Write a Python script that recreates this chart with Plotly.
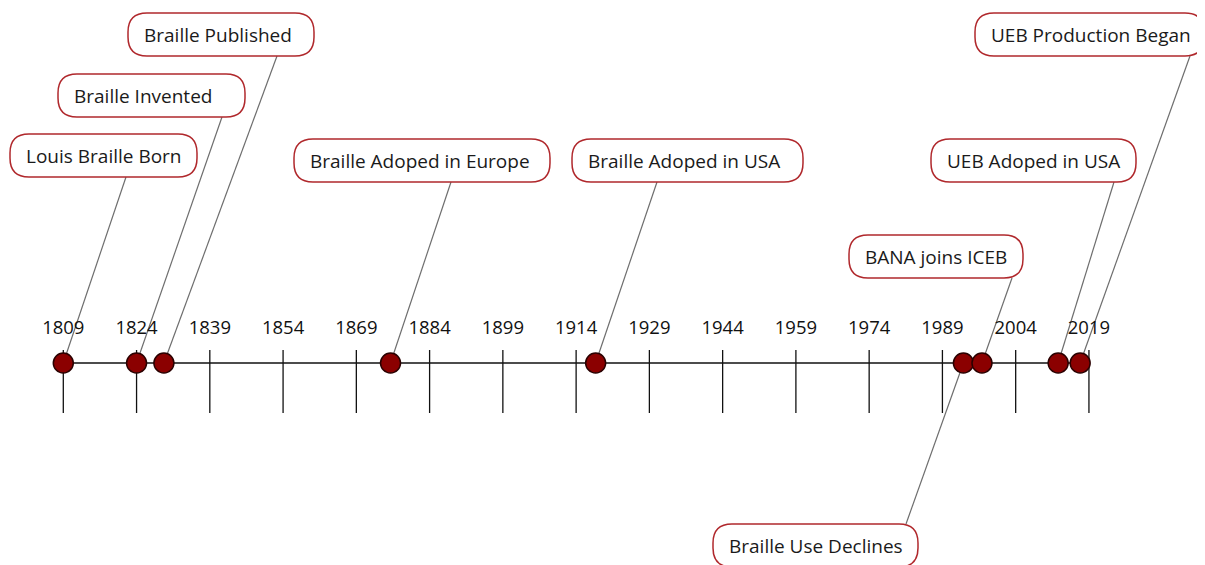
import plotly.graph_objects as go

# ---- data ----
event_labels = [
    "Louis Braille Born", "Braille Invented", "Braille Published",
    "Braille Adoped in Europe", "Braille Adoped in USA", "Braille Use Declines",
    "BANA joins ICEB", "UEB Adoped in USA", "UEB Production Began",
]
event_years = [1809, 1824, 1829.6, 1876, 1918, 1993.3, 1997.1, 2012.7, 2017.2]
tick_years = [1809, 1824, 1839, 1854, 1869, 1884, 1899, 1914, 1929, 1944, 1959, 1974, 1989, 2004, 2019]
tick_labels = [str(t) for t in tick_years]

# ---- layout (page pixels) ----
W, H = 1205, 565
OFF = 8                            # page body margin
X0, PPY = 1796.04, 4.884           # year at page x=0 and pixels per year
AXIS_Y = 363
# label boxes: left, right, top, connector start x (page pixels)
box_left = [10, 58, 128, 294, 572, 713, 849, 931, 975]
box_right = [197, 245, 314, 550, 803, 918, 1023, 1136, 1204]
box_top = [134, 74, 13, 139, 139, 524, 235, 139, 13]
conn_x = [126, 222, 277, 451, 657, 906, 1012, 1114, 1190]
BOX_H = 43
R = 19


def px2x(px):
    return X0 + px / PPY


fig = go.Figure()

# axis line
fig.add_trace(go.Scatter(x=[tick_years[0], tick_years[-1]], y=[AXIS_Y, AXIS_Y], mode="lines",
                         line=dict(color="#111", width=1.3), hoverinfo="skip", showlegend=False))
# tick lines
tx, ty = [], []
for t in tick_years:
    tx += [t, t, None]
    ty += [AXIS_Y - 13, AXIS_Y + 50, None]
fig.add_trace(go.Scatter(x=tx, y=ty, mode="lines", line=dict(color="#111", width=1.3),
                         hoverinfo="skip", showlegend=False))
# tick labels
fig.add_trace(go.Scatter(x=tick_years, y=[329] * len(tick_years), mode="text", text=tick_labels,
                         textfont=dict(family="Open Sans", size=18.5, color="#111"),
                         hoverinfo="skip", showlegend=False))

shapes = []
annotations = []
for lab, yr, l, r, t, cx in zip(event_labels, event_years, box_left, box_right, box_top, conn_x):
    b = t + BOX_H
    # connector
    cy = t if t > AXIS_Y else b
    shapes.append(dict(type="line", xref="x", yref="y", x0=px2x(cx), y0=cy, x1=yr, y1=AXIS_Y,
                       line=dict(color="#6e6e6e", width=1.2), layer="below"))
    # rounded box
    xl, xr = px2x(l), px2x(r)
    rx = R / PPY
    path = (f"M {xl+rx},{t} L {xr-rx},{t} Q {xr},{t} {xr},{t+R} L {xr},{b-R} "
            f"Q {xr},{b} {xr-rx},{b} L {xl+rx},{b} Q {xl},{b} {xl},{b-R} L {xl},{t+R} "
            f"Q {xl},{t} {xl+rx},{t} Z")
    shapes.append(dict(type="path", xref="x", yref="y", path=path, fillcolor="white",
                       line=dict(color="#b0282c", width=1.5), layer="above"))
    annotations.append(dict(x=px2x(l + 14), y=t + BOX_H / 2, xref="x", yref="y", text=lab,
                            showarrow=False, xanchor="left", yanchor="middle",
                            font=dict(family="Open Sans", size=19, color="#1a1a1a")))

# event markers
fig.add_trace(go.Scatter(x=event_years, y=[AXIS_Y] * len(event_years), mode="markers",
                         marker=dict(size=20, color="#8b0000", line=dict(color="#2a0000", width=1.5)),
                         text=event_labels, hoverinfo="text", showlegend=False))

fig.update_layout(
    width=W - OFF, height=H - OFF,
    margin=dict(l=0, r=0, t=0, b=0),
    paper_bgcolor="white", plot_bgcolor="white",
    xaxis=dict(range=[px2x(OFF), px2x(W)], visible=False, fixedrange=True),
    yaxis=dict(range=[H, OFF], visible=False, fixedrange=True),
    shapes=shapes, annotations=annotations,
    showlegend=False,
)

fig.write_html("out.html")
